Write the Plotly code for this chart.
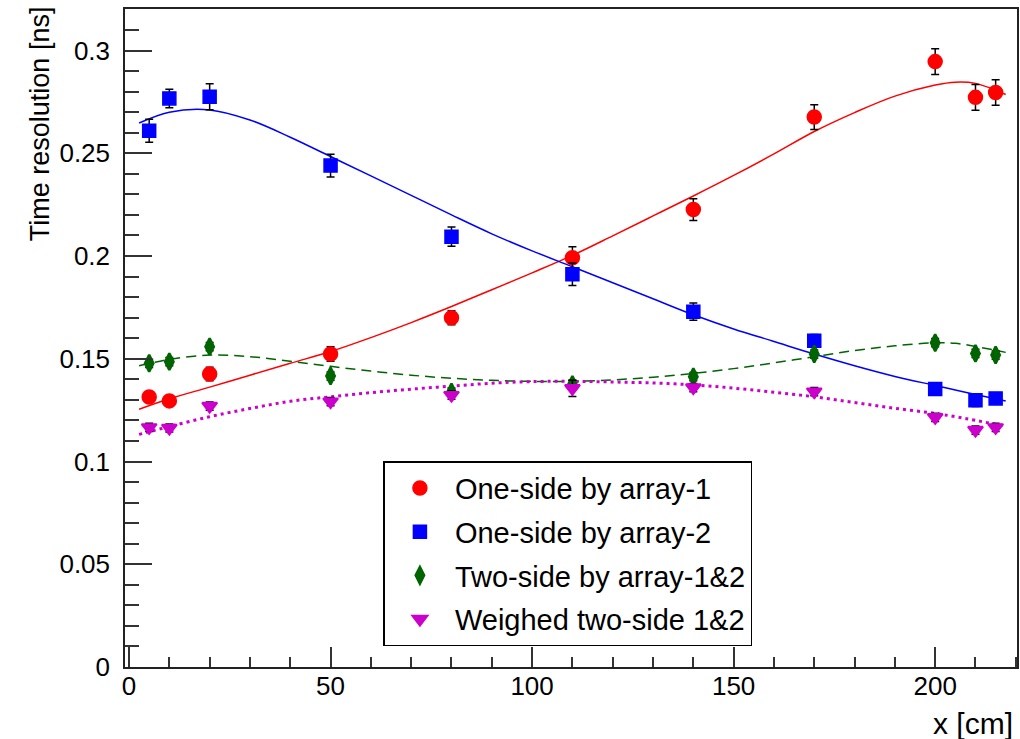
import plotly.graph_objects as go

# Measurement positions along the bar [cm]
x_pos = [5, 10, 20, 50, 80, 110, 140, 170, 200, 210, 215]

# Time resolution [ns] and uncertainties for each readout scheme
res_array1 = [0.1314, 0.1295, 0.1426, 0.1523, 0.1700, 0.1992, 0.2226, 0.2676, 0.2946, 0.2772, 0.2796]
err_array1 = [0.0020, 0.0020, 0.0033, 0.0035, 0.0034, 0.0053, 0.0053, 0.0060, 0.0063, 0.0063, 0.0062]

res_array2 = [0.2609, 0.2767, 0.2775, 0.2440, 0.2094, 0.1911, 0.1729, 0.1588, 0.1353, 0.1298, 0.1307]
err_array2 = [0.0056, 0.0045, 0.0063, 0.0055, 0.0047, 0.0055, 0.0042, 0.0030, 0.0020, 0.0030, 0.0020]

res_two_side = [0.1478, 0.1486, 0.1559, 0.1416, 0.1338, 0.1375, 0.1413, 0.1523, 0.1578, 0.1526, 0.1518]
err_two_side = [0.0020, 0.0020, 0.0020, 0.0020, 0.0020, 0.0020, 0.0020, 0.0020, 0.0020, 0.0020, 0.0020]

res_weighted = [0.1166, 0.1163, 0.1270, 0.1291, 0.1323, 0.1356, 0.1360, 0.1340, 0.1215, 0.1153, 0.1166]
err_weighted = [0.0020, 0.0020, 0.0020, 0.0020, 0.0020, 0.0040, 0.0020, 0.0020, 0.0020, 0.0020, 0.0020]

# Fitted curves sampled along x
fit_x = [2.5, 10, 20, 30, 40, 50, 60, 70, 80, 90, 100, 110, 120, 130, 140,
         150, 160, 170, 180, 190, 200, 205, 210, 217.5]
fit_array1 = [0.1254, 0.1305, 0.1362, 0.1420, 0.1478, 0.1535, 0.1603, 0.1676, 0.1754, 0.1836,
              0.1918, 0.2003, 0.2098, 0.2195, 0.2292, 0.2392, 0.2497, 0.2606, 0.2698, 0.2778,
              0.2832, 0.2846, 0.2840, 0.2786]
fit_array2 = [0.2647, 0.2700, 0.2711, 0.2662, 0.2578, 0.2484, 0.2390, 0.2295, 0.2200, 0.2108,
              0.2025, 0.1948, 0.1870, 0.1792, 0.1714, 0.1645, 0.1584, 0.1523, 0.1466, 0.1414,
              0.1370, 0.1348, 0.1326, 0.1294]
fit_two_side = [0.1466, 0.1497, 0.1518, 0.1510, 0.1488, 0.1463, 0.1440, 0.1420, 0.1405, 0.1395,
                0.1390, 0.1390, 0.1397, 0.1410, 0.1429, 0.1452, 0.1480, 0.1510, 0.1540, 0.1563,
                0.1578, 0.1575, 0.1560, 0.1531]
fit_weighted = [0.1132, 0.1170, 0.1218, 0.1258, 0.1293, 0.1315, 0.1335, 0.1352, 0.1367, 0.1381,
                0.1389, 0.1390, 0.1387, 0.1382, 0.1373, 0.1357, 0.1337, 0.1315, 0.1287, 0.1259,
                0.1234, 0.1218, 0.1200, 0.1172]

FONT = "Liberation Sans, Arial, Helvetica, sans-serif"

series = [
    ("One-side by array-1", res_array1, err_array1, fit_array1, "#ff0000",
     dict(symbol="circle", size=14), 1.5, dict(dash="solid", width=1.5)),
    ("One-side by array-2", res_array2, err_array2, fit_array2, "#0000ff",
     dict(symbol="square", size=13), 1.5, dict(dash="solid", width=1.5)),
    ("Two-side by array-1&2", res_two_side, err_two_side, fit_two_side, "#006400",
     dict(symbol="diamond-tall", size=12), 2.5, dict(dash="10px,6px", width=1.5)),
    ("Weighed two-side 1&2", res_weighted, err_weighted, fit_weighted, "#cc00cc",
     dict(symbol="triangle-down", size=13), 2, dict(dash="3px,4px", width=3)),
]

fig = go.Figure()

# fit curves underneath the points
for name, _, _, fit, color, _, _, line in series:
    fig.add_trace(go.Scatter(
        x=fit_x, y=fit, mode="lines", line=dict(color=color, shape="spline", **line),
        showlegend=False, hoverinfo="skip",
    ))

for i, (name, vals, errs, _, color, marker, edge, _) in enumerate(series):
    fig.add_trace(go.Scatter(
        x=x_pos, y=vals, mode="markers", name=name, legendgroup=f"g{i}",
        marker=dict(color=color, line=dict(color=color, width=edge), **marker),
        error_y=dict(type="data", array=errs, visible=True, color="black",
                     thickness=1.5, width=4),
    ))

axis_common = dict(
    showline=True, linecolor="#222", linewidth=1.5, mirror=True,
    ticks="inside", tickcolor="#333", tickwidth=1.5,
    showgrid=False, zeroline=False,
    tickfont=dict(family=FONT, size=26, color="black"),
)

fig.update_xaxes(
    range=[-1, 220.3], tick0=0, dtick=50, ticklen=20,
    minor=dict(ticks="inside", dtick=10, ticklen=10, tickcolor="#333", tickwidth=1.5),
    ticklabelstandoff=-5,
    **axis_common,
)
fig.update_yaxes(
    range=[0, 0.3202], tick0=0, dtick=0.05, ticklen=27,
    minor=dict(ticks="inside", dtick=0.01, ticklen=14, tickcolor="#333", tickwidth=1.5),
    tickformat="~g", ticklabelstandoff=8,
    **axis_common,
)

fig.add_annotation(
    text="Time resolution [ns]", textangle=-90, xref="paper", yref="paper",
    x=-0.096, y=0.8255, xanchor="center", yanchor="middle", showarrow=False,
    font=dict(family=FONT, size=27, color="black"),
)
fig.add_annotation(
    text="x [cm]", xref="paper", yref="paper", x=0.998, y=-0.086,
    xanchor="right", yanchor="middle", showarrow=False,
    font=dict(family=FONT, size=30, color="black"),
)

fig.update_layout(
    width=1020, height=739,
    margin=dict(l=125, r=1, t=9, b=72),
    plot_bgcolor="white", paper_bgcolor="white",
    showlegend=True,
    legend=dict(
        x=0.2897, y=0.3129, xanchor="left", yanchor="top",
        bgcolor="white", bordercolor="black", borderwidth=1.5,
        font=dict(family=FONT, size=29, color="black"),
        tracegroupgap=3, itemwidth=60,
    ),
)

fig.write_html("out.html")
